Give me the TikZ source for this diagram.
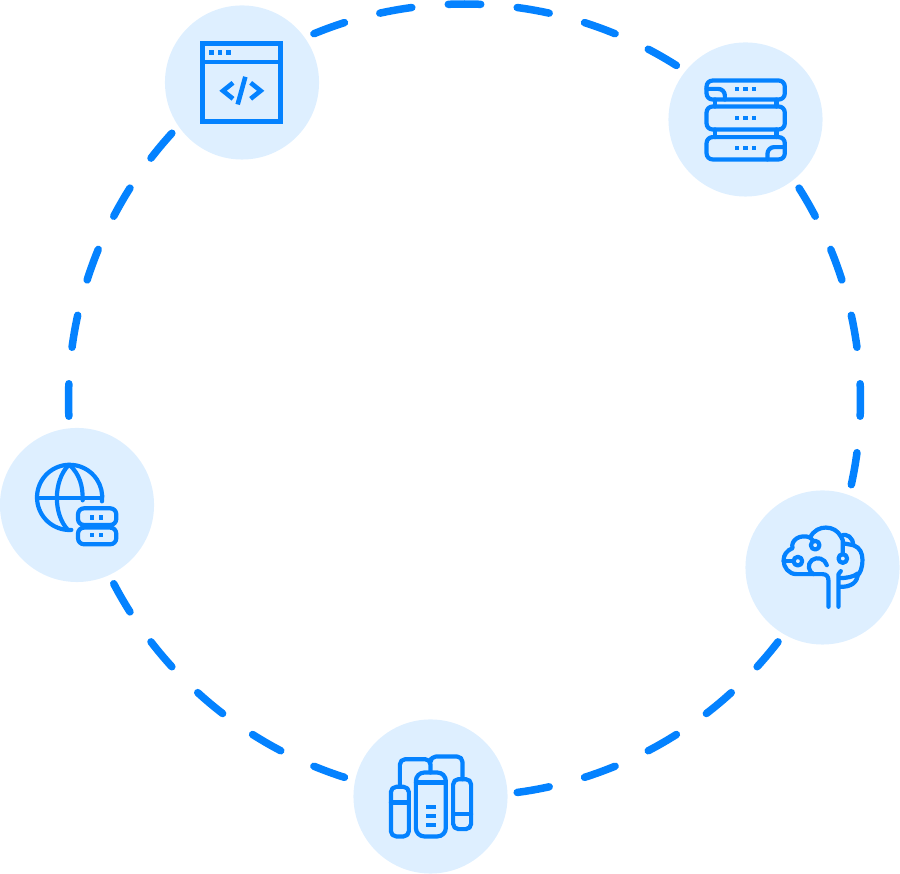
\documentclass[tikz,border=0pt]{standalone}
\usepackage{tikz}

\definecolor{ringblue}{HTML}{0482FF}
\definecolor{hubblue}{HTML}{DEEFFF}

\tikzset{
    ringdash/.style={draw=ringblue, line width=0.075cm, line cap=round},
    hub/.style={circle, fill=hubblue, minimum size=1.54cm, inner sep=0pt},
    icon/.style={shift={(#1)}, x=0.003333cm, y=-0.003333cm, shift={(-232,-232)}},
    stroke/.style={draw=ringblue, line width=0.042cm, line cap=round, line join=round},
    sharp/.style={draw=ringblue, line width=0.046cm, line join=miter},
    dot/.style={draw=none, fill=ringblue}
}
\newcommand{\pixdot}[2]{\fill[dot] (#1-6.5,#2-6.5) rectangle (#1+6.5,#2+6.5);}

\begin{document}
\begin{tikzpicture}[x=0.01cm, y=-0.01cm]
    \useasboundingbox (0,0) rectangle (900,874);

    \coordinate (ringc) at (464.5,400);
    \foreach \a in {0,10,...,350}
        \draw[ringdash] ([shift={(\a-2.35:396)}]ringc) arc[start angle=\a-2.35, end angle=\a+2.35, radius=396];

    \node[hub] (window) at (242,82.5) {};
    \node[hub] (server) at (745.5,119.5) {};
    \node[hub] (brain) at (822.5,567.5) {};
    \node[hub] (tanks) at (430.5,796.5) {};
    \node[hub] (globe) at (77,505) {};

    % browser window
    \begin{scope}[icon=window]
        \draw[sharp] (113,115) rectangle (348,350);
        \draw[sharp] (113,170) -- (348,170);
        \pixdot{140}{142} \pixdot{165}{142} \pixdot{191}{142}
        \draw[sharp] (205,233) -- (175,257) -- (205,281);
        \draw[sharp] (258,233) -- (288,257) -- (258,281);
        \draw[sharp] (242,215) -- (219,298);
    \end{scope}

    % server rack
    \begin{scope}[icon=server]
        \draw[stroke, rounded corners=1.7pt] (115,115) rectangle (350,172);
        \draw[stroke, rounded corners=1.7pt] (115,193) rectangle (350,262);
        \draw[stroke, rounded corners=1.7pt] (115,285) rectangle (350,352);
        \draw[stroke] (140,172) -- (140,193);
        \draw[stroke] (325,172) -- (325,193);
        \draw[stroke] (140,262) -- (140,285);
        \draw[stroke] (325,262) -- (325,285);
        \draw[stroke] (115,140) -- (150,140) arc[start angle=-90, end angle=0, radius=20] -- (170,172);
        \draw[stroke] (350,315) -- (318,315) arc[start angle=-90, end angle=-180, radius=20] -- (298,352);
        \foreach \y in {141,227,318} {
            \pixdot{207}{\y} \pixdot{232}{\y} \pixdot{258}{\y}
        }
    \end{scope}

    % brain on a stem
    \begin{scope}[icon=brain]
        \draw[stroke] (250,350) -- (250,272) .. controls (250,258) and (243,252) .. (232,252) -- (155,252)
            .. controls (130,252) and (115,232) .. (115,210)
            .. controls (115,195) and (125,180) .. (142,174)
            .. controls (135,150) and (165,130) .. (195,142)
            .. controls (205,120) and (225,112) .. (242,112)
            .. controls (262,112) and (278,122) .. (287,138)
            .. controls (305,125) and (325,145) .. (325,165)
            .. controls (345,172) and (352,190) .. (352,208)
            .. controls (352,235) and (345,250) .. (335,258);
        \draw[stroke] (280,350) -- (280,252) -- (287,243);
        \draw[stroke] (282,264) .. controls (305,264) and (325,260) .. (338,250)
            .. controls (338,275) and (320,292) .. (282,290);
        \draw[stroke] (293,192) -- (293,150) -- (287,138);
        \draw[stroke] (298,160) -- (325,165);
        \draw[stroke] (195,142) -- (204,152);
        \draw[stroke] (115,213) -- (145,213);
        \draw[stroke] (245,225) .. controls (240,205) and (215,198) .. (200,210)
            .. controls (185,222) and (190,245) .. (205,252);
        \draw[stroke] (210,165) circle[radius=13];
        \draw[stroke] (158,213) circle[radius=13];
        \draw[stroke] (293,205) circle[radius=13];
    \end{scope}

    % tanks with pipes
    \begin{scope}[icon=tanks]
        \draw[stroke, rounded corners=1.5pt] (113,203) rectangle (167,352);
        \draw[stroke] (113,250) -- (167,250);
        \draw[stroke, rounded corners=2.4pt] (188,160) rectangle (278,352);
        \draw[stroke] (188,190) -- (278,190);
        \draw[stroke, rounded corners=1.5pt] (300,180) rectangle (354,330);
        \draw[stroke] (300,285) -- (354,285);
        \draw[stroke, rounded corners=1.5pt] (140,203) -- (140,120) -- (232,120) -- (232,160);
        \draw[stroke, rounded corners=1.5pt] (232,120) -- (232,112) -- (328,112) -- (328,180);
        \foreach \y in {265,292,318}
            \fill[dot] (217,\y-6) rectangle (248,\y+6);
    \end{scope}

    % globe and small server
    \begin{scope}[icon=globe]
        \draw[stroke] (215,307) arc[start angle=87, end angle=367, radius=98];
        \draw[stroke] (207,112) .. controls (160,160) and (160,260) .. (205,307);
        \draw[stroke] (210,112) .. controls (240,140) and (250,175) .. (249,218);
        \draw[stroke] (112,210) -- (306,210);
        \draw[stroke, rounded corners=1.7pt] (235,242) rectangle (350,292);
        \draw[stroke, rounded corners=1.7pt] (235,300) rectangle (350,350);
        \foreach \y in {270,322} {
            \pixdot{277}{\y} \pixdot{305}{\y}
        }
    \end{scope}
\end{tikzpicture}
\end{document}
